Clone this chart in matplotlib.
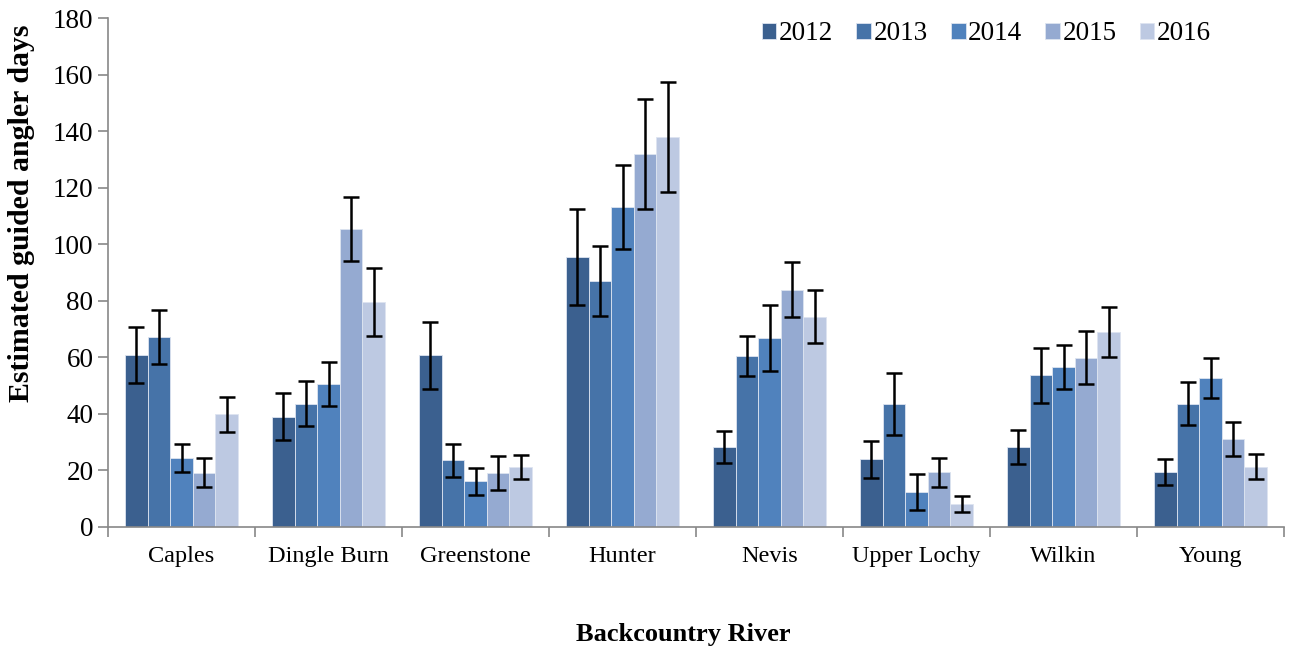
import numpy as np
import matplotlib.pyplot as plt

rivers = ["Caples", "Dingle Burn", "Greenstone", "Hunter", "Nevis",
          "Upper Lochy", "Wilkin", "Young"]
years = ["2012", "2013", "2014", "2015", "2016"]

days_2012 = [60.8, 39.0, 60.7, 95.4, 28.3, 23.9, 28.3, 19.6]
days_2013 = [67.1, 43.6, 23.6, 87.1, 60.5, 43.6, 53.6, 43.6]
days_2014 = [24.3, 50.6, 16.1, 113.2, 66.8, 12.3, 56.7, 52.6]
days_2015 = [19.2, 105.4, 19.2, 131.8, 83.9, 19.3, 59.9, 31.2]
days_2016 = [39.8, 79.6, 21.2, 137.8, 74.3, 8.1, 69.0, 21.3]

err_2012 = [10.0, 8.3, 11.8, 17.0, 5.7, 6.5, 6.0, 4.6]
err_2013 = [9.6, 8.0, 5.8, 12.4, 7.0, 10.9, 9.8, 7.6]
err_2014 = [5.0, 7.7, 4.7, 14.8, 11.8, 6.3, 7.8, 7.1]
err_2015 = [5.2, 11.4, 6.0, 19.5, 9.7, 5.2, 9.4, 6.0]
err_2016 = [6.1, 12.0, 4.4, 19.4, 9.4, 2.8, 8.8, 4.4]

colors = ["#3b608f", "#4673a8", "#5082bd", "#95aad1", "#bdc9e2"]

values = [days_2012, days_2013, days_2014, days_2015, days_2016]
errors = [err_2012, err_2013, err_2014, err_2015, err_2016]

plt.rcParams["font.family"] = ["Liberation Serif", "DejaVu Serif"]

fig = plt.figure(figsize=(12.9, 6.49), dpi=100)
ax = fig.add_axes([108 / 1290, 1 - 527 / 649, 1176 / 1290, 509 / 649])

x = np.arange(len(rivers))
width = 1 / 6.5
for i, (year, vals, errs) in enumerate(zip(years, values, errors)):
    pos = x + (i - 2) * width
    ax.bar(pos, vals, width, color=colors[i], edgecolor="#dde4f0",
           linewidth=0.6, label=year, zorder=2)
    ax.errorbar(pos, vals, yerr=errs, fmt="none", ecolor="black",
                elinewidth=1.8, capsize=6, capthick=1.8, zorder=3)

ax.set_xlim(-0.5, len(rivers) - 0.5)
ax.set_ylim(0, 180)
ax.set_yticks(range(0, 181, 20))
ax.set_xticks(x)
ax.set_xticklabels(rivers, fontsize=17.5)
ax.set_xticks(np.arange(len(rivers) + 1) - 0.5, minor=True)
ax.tick_params(axis="x", which="major", length=0, pad=14)
ax.tick_params(axis="x", which="minor", length=7, color="#888888", width=1.2)
ax.tick_params(axis="y", labelsize=19.5, length=7, color="#888888", width=1.2)

for side in ["top", "right"]:
    ax.spines[side].set_visible(False)
for side in ["left", "bottom"]:
    ax.spines[side].set_color("#888888")
    ax.spines[side].set_linewidth(1.2)

fig.text(22 / 1290, 1 - 213 / 649, "Estimated guided angler days",
         fontsize=21.5, fontweight="bold", rotation=90,
         ha="center", va="center")
fig.text(683 / 1290, 1 - 635 / 649, "Backcountry River", fontsize=19,
         fontweight="bold", ha="center", va="center")

ax.legend(loc="center left", bbox_to_anchor=(748 / 1290, 1 - 34 / 649),
          bbox_transform=fig.transFigure, ncol=5, frameon=False,
          fontsize=19.5, borderpad=0, handlelength=0.55, handleheight=0.55,
          handletextpad=0.1, columnspacing=0.84)

plt.savefig("out.png", dpi=100)
